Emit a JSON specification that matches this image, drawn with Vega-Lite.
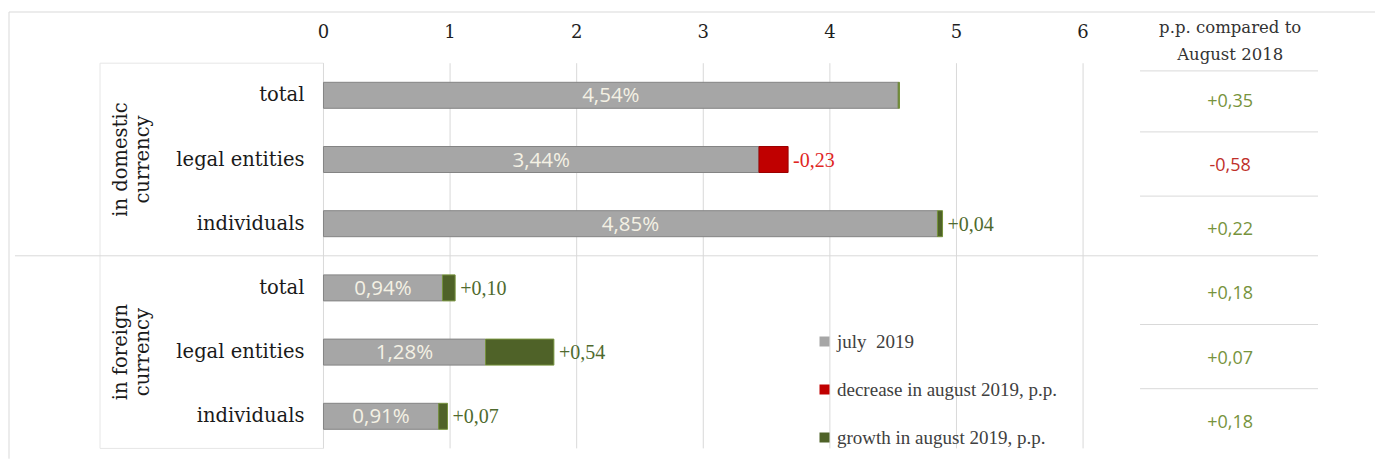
{
  "$schema": "https://vega.github.io/schema/vega-lite/v6.json",
  "width": 1366,
  "height": 446,
  "autosize": {"type": "none"},
  "padding": {"left": 9, "top": 12, "right": 1, "bottom": 1},
  "background": "white",
  "config": {
    "view": {"stroke": null},
    "legend": {
      "orient": "none",
      "legendX": 806,
      "legendY": 320,
      "padding": 0,
      "symbolType": "square",
      "symbolSize": 100,
      "symbolStrokeWidth": 0,
      "labelFont": "Liberation Serif",
      "labelFontSize": 19,
      "labelColor": "#404040",
      "labelOffset": 3,
      "labelLimit": 400,
      "rowPadding": 28,
      "titleFontSize": 0
    }
  },
  "datasets": {
    "rows": [
      {"row": "d_total", "cat": "total", "yoy": "+0,35", "yoyDir": "up"},
      {"row": "d_legal", "cat": "legal entities", "yoy": "-0,58", "yoyDir": "down"},
      {"row": "d_ind", "cat": "individuals", "yoy": "+0,22", "yoyDir": "up"},
      {"row": "f_total", "cat": "total", "yoy": "+0,18", "yoyDir": "up"},
      {"row": "f_legal", "cat": "legal entities", "yoy": "+0,07", "yoyDir": "up"},
      {"row": "f_ind", "cat": "individuals", "yoy": "+0,18", "yoyDir": "up"}
    ],
    "bars": [
      {"row": "d_total", "series": "july\u00a0 2019", "value": 4.54, "seg": 1, "pct": "4,54%", "lab": ""},
      {"row": "d_total", "series": "growth in august 2019, p.p.", "value": 0.01, "seg": 2, "pct": "", "lab": ""},
      {"row": "d_legal", "series": "july\u00a0 2019", "value": 3.44, "seg": 1, "pct": "3,44%", "lab": ""},
      {"row": "d_legal", "series": "decrease in august 2019, p.p.", "value": 0.23, "seg": 2, "pct": "", "lab": "-0,23"},
      {"row": "d_ind", "series": "july\u00a0 2019", "value": 4.85, "seg": 1, "pct": "4,85%", "lab": ""},
      {"row": "d_ind", "series": "growth in august 2019, p.p.", "value": 0.04, "seg": 2, "pct": "", "lab": "+0,04"},
      {"row": "f_total", "series": "july\u00a0 2019", "value": 0.94, "seg": 1, "pct": "0,94%", "lab": ""},
      {"row": "f_total", "series": "growth in august 2019, p.p.", "value": 0.10, "seg": 2, "pct": "", "lab": "+0,10"},
      {"row": "f_legal", "series": "july\u00a0 2019", "value": 1.28, "seg": 1, "pct": "1,28%", "lab": ""},
      {"row": "f_legal", "series": "growth in august 2019, p.p.", "value": 0.54, "seg": 2, "pct": "", "lab": "+0,54"},
      {"row": "f_ind", "series": "july\u00a0 2019", "value": 0.91, "seg": 1, "pct": "0,91%", "lab": ""},
      {"row": "f_ind", "series": "growth in august 2019, p.p.", "value": 0.07, "seg": 2, "pct": "", "lab": "+0,07"}
    ],
    "ticks": [{"t": 0}, {"t": 1}, {"t": 2}, {"t": 3}, {"t": 4}, {"t": 5}, {"t": 6}],
    "groups": [
      {"row": "d_legal", "g": ["in domestic", "currency"]},
      {"row": "f_legal", "g": ["in foreign", "currency"]}
    ],
    "one": [{"h": ["p.p. compared to", "August 2018"]}]
  },
  "layer": [
    {
      "data": {"name": "one"},
      "mark": {"type": "rule", "color": "#d9d9d9", "strokeWidth": 1},
      "encoding": {
        "x": {"datum": -2.484, "type": "quantitative", "axis": null, "scale": {"domain": [-2.484, 8.306], "nice": false, "zero": false}},
        "x2": {"datum": 8.306},
        "y": {"datum": "hdr", "type": "nominal", "bandPosition": 0.2025, "axis": null,
              "scale": {"domain": ["hdr", "d_total", "d_legal", "d_ind", "f_total", "f_legal", "f_ind"], "range": [-13, 436.4], "paddingInner": 0, "paddingOuter": 0}}
      }
    },
    {
      "data": {"name": "one"},
      "mark": {"type": "rule", "color": "#d9d9d9", "strokeWidth": 1},
      "encoding": {
        "x": {"datum": -2.484},
        "y": {"datum": "hdr", "type": "nominal", "bandPosition": 0.2025},
        "y2": {"datum": "f_ind", "bandPosition": 1.16}
      }
    },
    {
      "data": {"name": "one"},
      "mark": {"type": "rect", "fill": "white", "stroke": "#e6e6e6", "strokeWidth": 1},
      "encoding": {
        "x": {"datum": -1.765},
        "x2": {"datum": 0},
        "y": {"datum": "d_total", "type": "nominal", "bandPosition": 0},
        "y2": {"datum": "f_ind", "bandPosition": 1}
      }
    },
    {
      "data": {"name": "ticks"},
      "mark": {"type": "rule", "color": "#d9d9d9", "strokeWidth": 1},
      "encoding": {
        "x": {"field": "t", "type": "quantitative"},
        "y": {"datum": "d_total", "type": "nominal", "bandPosition": 0},
        "y2": {"datum": "f_ind", "bandPosition": 1}
      }
    },
    {
      "data": {"name": "ticks"},
      "mark": {"type": "text", "font": "DejaVu Serif", "fontSize": 18, "color": "#1f1f1f", "baseline": "middle", "dy": 2},
      "encoding": {
        "x": {"field": "t", "type": "quantitative"},
        "y": {"datum": "hdr", "type": "nominal"},
        "text": {"field": "t", "type": "quantitative"}
      }
    },
    {
      "data": {"name": "one"},
      "mark": {"type": "rule", "color": "#d9d9d9", "strokeWidth": 1},
      "encoding": {
        "x": {"datum": -2.437},
        "x2": {"datum": 7.856},
        "y": {"datum": "f_total", "type": "nominal", "bandPosition": 0}
      }
    },
    {
      "data": {"name": "one"},
      "mark": {"type": "rule", "color": "#d9d9d9", "strokeWidth": 1},
      "encoding": {
        "x": {"datum": 6.45},
        "x2": {"datum": 7.856},
        "y": {"datum": "d_total", "type": "nominal", "bandPosition": 0.12}
      }
    },
    {
      "data": {"name": "rows"},
      "transform": [{"filter": "datum.row != 'd_total' && datum.row != 'f_total'"}],
      "mark": {"type": "rule", "color": "#d9d9d9", "strokeWidth": 1},
      "encoding": {
        "x": {"datum": 6.45},
        "x2": {"datum": 7.856},
        "y": {"field": "row", "type": "nominal", "bandPosition": 0.07}
      }
    },
    {
      "data": {"name": "bars"},
      "mark": {"type": "bar", "height": 26, "strokeWidth": 1},
      "encoding": {
        "x": {"field": "value", "type": "quantitative", "stack": "zero"},
        "y": {"field": "row", "type": "nominal"},
        "order": {"field": "seg", "type": "quantitative"},
        "color": {
          "field": "series", "type": "nominal",
          "scale": {"domain": ["july\u00a0 2019", "decrease in august 2019, p.p.", "growth in august 2019, p.p."], "range": ["#a6a6a6", "#c00000", "#4f6228"]},
          "legend": {"title": null}
        },
        "stroke": {
          "field": "series", "type": "nominal",
          "scale": {"domain": ["july\u00a0 2019", "decrease in august 2019, p.p.", "growth in august 2019, p.p."], "range": ["#848484", "#9b0000", "#76923c"]},
          "legend": null
        }
      }
    },
    {
      "data": {"name": "bars"},
      "mark": {"type": "text", "font": "Open Sans", "fontSize": 20.5, "color": "#f4f1e4", "baseline": "middle", "align": "center", "dy": 1},
      "encoding": {
        "x": {"field": "value", "type": "quantitative", "stack": "zero", "bandPosition": 0.5},
        "y": {"field": "row", "type": "nominal"},
        "order": {"field": "seg", "type": "quantitative"},
        "text": {"field": "pct"}
      }
    },
    {
      "data": {"name": "bars"},
      "mark": {"type": "text", "font": "Liberation Serif", "fontSize": 20, "align": "left", "baseline": "middle", "dx": 5, "dy": 1},
      "encoding": {
        "x": {"field": "value", "type": "quantitative", "stack": "zero"},
        "y": {"field": "row", "type": "nominal"},
        "order": {"field": "seg", "type": "quantitative"},
        "text": {"field": "lab"},
        "color": {"condition": {"test": "indexof(datum.series, 'decrease') == 0", "value": "#e0261f"}, "value": "#4f6a2e"}
      }
    },
    {
      "data": {"name": "rows"},
      "mark": {"type": "text", "font": "DejaVu Serif", "fontSize": 19.5, "color": "#1a1a1a", "baseline": "middle", "align": "right"},
      "encoding": {
        "x": {"datum": -0.15},
        "y": {"field": "row", "type": "nominal"},
        "text": {"field": "cat"}
      }
    },
    {
      "data": {"name": "groups"},
      "mark": {"type": "text", "font": "DejaVu Serif", "fontSize": 19.5, "color": "#1a1a1a", "baseline": "middle", "align": "center", "angle": 270, "lineHeight": 22},
      "encoding": {
        "x": {"datum": -1.6},
        "y": {"field": "row", "type": "nominal"},
        "text": {"field": "g"}
      }
    },
    {
      "data": {"name": "rows"},
      "mark": {"type": "text", "font": "Open Sans", "fontSize": 18, "baseline": "middle", "align": "center"},
      "encoding": {
        "x": {"datum": 7.162},
        "y": {"field": "row", "type": "nominal", "bandPosition": 0.6},
        "text": {"field": "yoy"},
        "color": {"condition": {"test": "datum.yoyDir == 'down'", "value": "#c0302a"}, "value": "#77933c"}
      }
    },
    {
      "data": {"name": "one"},
      "mark": {"type": "text", "font": "DejaVu Serif", "fontSize": 16.5, "color": "#333333", "baseline": "middle", "align": "center", "lineHeight": 27, "dy": -3},
      "encoding": {
        "x": {"datum": 7.162},
        "y": {"datum": "hdr", "type": "nominal"},
        "text": {"field": "h"}
      }
    }
  ]
}
